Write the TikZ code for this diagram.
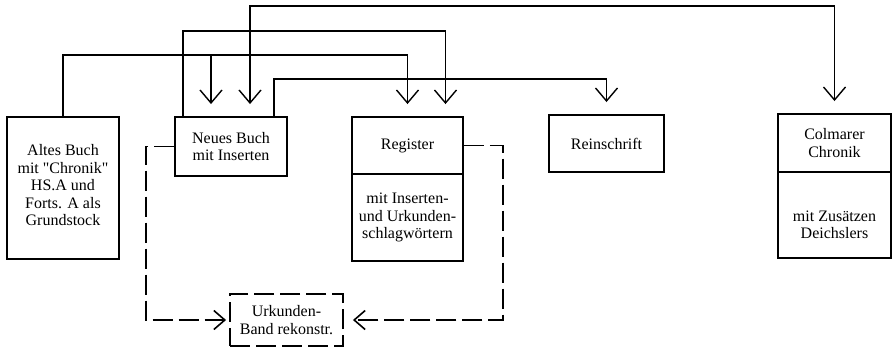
\documentclass[tikz,border=0pt]{standalone}
\usepackage{fontspec}
\setmainfont{Liberation Serif}[Ligatures=TeXOff]
\usetikzlibrary{arrows.meta}

\begin{document}
\begin{tikzpicture}[x=1pt, y=-1pt,
  box/.style={draw, line width=1.9pt, align=center, inner sep=0pt, font=\fontsize{16}{17.5}\selectfont},
  link/.style={line width=1.4pt},
  arr/.style={link, -{Straight Barb[length=13pt,width=22pt]}, shorten >=12pt},
  darr/.style={link, {Straight Barb[length=13pt,width=22pt]}-{Straight Barb[length=13pt,width=22pt]}, shorten <=12pt, shorten >=12pt},
  dlink/.style={line width=1.6pt, dash pattern=on 20pt off 6pt, -{Straight Barb[length=11pt,width=19pt]}}]

  \useasboundingbox (0,0) rectangle (893,349);

  % Boxes
  \node[box, minimum width=112pt, minimum height=142pt] (altbuch) at (63,188)
    {Altes Buch\\mit "Chronik"\\HS.A und\\Forts. A als\\Grundstock\\[-12pt]\mbox{}};
  \node[box, minimum width=112pt, minimum height=59pt] (neubuch) at (231,146.5)
    {Neues Buch\\mit Inserten};
  \node[box, minimum width=111pt, minimum height=57pt] (regtop) at (407.5,145.5) {Register};
  \node[box, minimum width=111pt, minimum height=87pt] (regbot) at (407.5,217.5)
    {mit Inserten-\\und Urkunden-\\schlagwörtern};
  \node[box, minimum width=115pt, minimum height=57pt] (reinschrift) at (606.5,143.5) {Reinschrift};
  \node[box, minimum width=113pt, minimum height=58pt] (colmar) at (834.5,143)
    {Colmarer\\Chronik};
  \node[box, minimum width=113pt, minimum height=86pt, text height=47pt, text depth=0pt] (colmarbot) at (834.5,215)
    {mit Zusätzen\\Deichslers};
  \node[box, dash pattern=on 20pt off 6pt, minimum width=113pt, minimum height=52pt] (urkunden) at (286.5,320)
    {Urkunden-\\Band rekonstr.};

  % heights of the connector lines
  \coordinate (r1) at (0,6);
  \coordinate (r2) at (0,31);
  \coordinate (r3) at (0,55);
  \coordinate (r4) at (0,79);

  % drop points at the two middle boxes
  \coordinate (nb1) at ([xshift=-48pt]neubuch.north);
  \coordinate (nb2) at ([xshift=-20pt]neubuch.north);
  \coordinate (nb3) at ([xshift=19pt]neubuch.north);
  \coordinate (nb4) at ([xshift=43pt]neubuch.north);
  \coordinate (rg2) at ([xshift=38pt]regtop.north);

  % Connectors
  \draw[arr] (altbuch.north) -- (altbuch.north |- r3) -| (regtop.north);
  \draw[arr] (nb2 |- r3) -- (nb2);
  \draw[arr] (nb1) -- (nb1 |- r2) -| (rg2);
  \draw[arr] (nb4) -- (nb4 |- r4) -| (reinschrift.north);
  \draw[darr] (nb3) -- (nb3 |- r1) -| (colmar.north);

  % dashed lines to the reconstructed volume
  \draw[dlink, shorten >=3pt] (neubuch.west) -- ++(-28,0) |- (urkunden.west);
  \draw[dlink, shorten >=9pt] (regtop.east) -- ++(39,0) |- (urkunden.east);

\end{tikzpicture}
\end{document}
